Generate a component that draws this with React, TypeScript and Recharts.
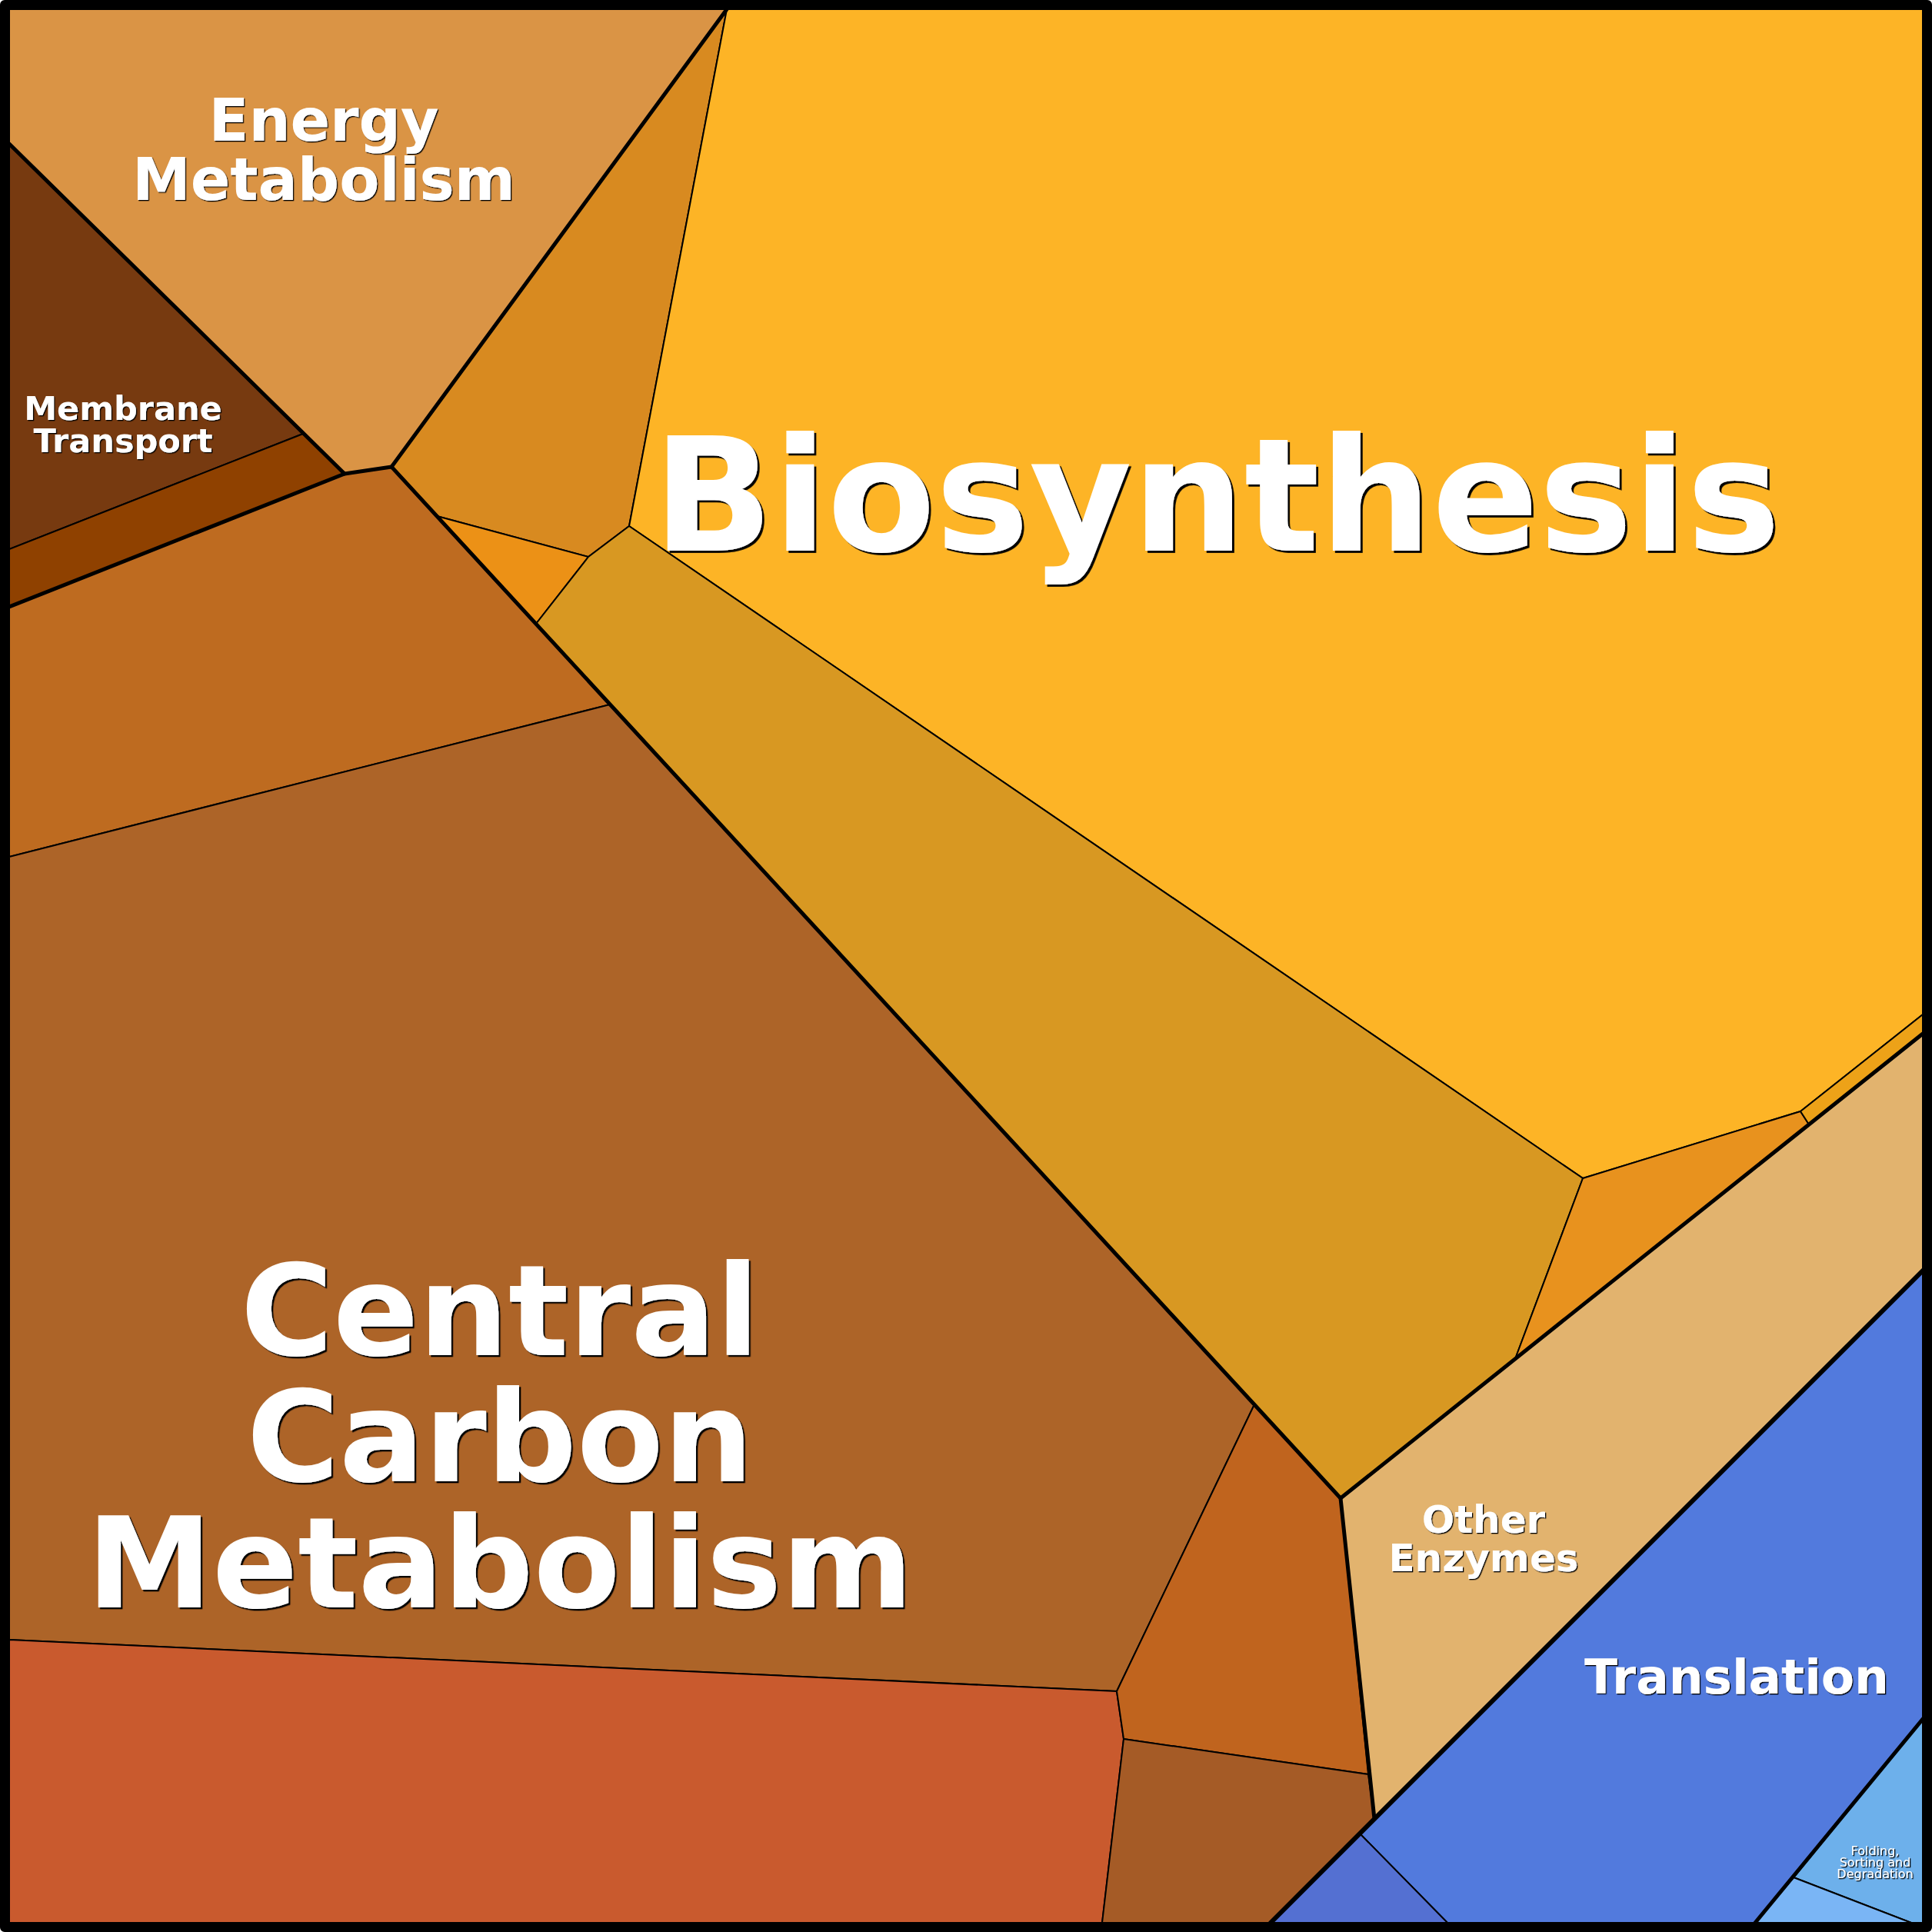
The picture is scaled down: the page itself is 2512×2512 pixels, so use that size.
import { ScatterChart, Scatter, XAxis, YAxis } from 'recharts'

type Vertex = [number, number]

// Voronoi cells, vertices in picture units (the frame runs 12..2500 on both axes)
const energyMetabolism: Vertex[] = [[12, 12], [945, 12], [509, 607], [448, 616], [12, 187]]
const membraneUpper: Vertex[] = [[12, 187], [394, 564], [12, 714]]
const membraneLower: Vertex[] = [[12, 714], [394, 564], [448, 616], [12, 789]]
const carbonUpper: Vertex[] = [[12, 789], [448, 616], [509, 607], [793, 916], [12, 1114]]
const carbonMain: Vertex[] = [[12, 1114], [793, 916], [1631, 1826], [1452, 2199], [12, 2132]]
const carbonLowerLeft: Vertex[] = [[12, 2132], [1452, 2199], [1461, 2261], [1433, 2500], [12, 2500]]
const carbonRight: Vertex[] = [[1452, 2199], [1631, 1826], [1743, 1948], [1779, 2307], [1461, 2261]]
const carbonBottom: Vertex[] = [[1461, 2261], [1779, 2307], [1787, 2365], [1652, 2500], [1433, 2500]]
const bioWedge: Vertex[] = [[945, 12], [818, 684], [765, 724], [568, 671], [509, 607]]
const bioTriangle: Vertex[] = [[568, 671], [765, 724], [697, 811]]
const bioMain: Vertex[] = [[945, 12], [2500, 12], [2500, 1319], [2341, 1445], [2058, 1532], [818, 684]]
const bioBand: Vertex[] = [[818, 684], [2058, 1532], [1970, 1767], [1743, 1948], [697, 811], [765, 724]]
const bioOrange: Vertex[] = [[2058, 1532], [2341, 1445], [2352, 1462], [1970, 1767]]
const bioSliver: Vertex[] = [[2341, 1445], [2500, 1319], [2500, 1344], [2352, 1462]]
const otherEnzymes: Vertex[] = [[1743, 1948], [2500, 1344], [2500, 1652], [1787, 2365]]
const translationMain: Vertex[] = [[1787, 2365], [2500, 1652], [2500, 2235], [2282, 2500], [1882, 2500], [1768, 2384]]
const translationSmall: Vertex[] = [[1652, 2500], [1768, 2384], [1882, 2500]]
const foldingMain: Vertex[] = [[2332, 2441], [2500, 2235], [2500, 2500], [2485, 2500]]
const foldingSliver: Vertex[] = [[2282, 2500], [2332, 2441], [2485, 2500]]

// top-level category borders
const borderEnergy: Vertex[] = [[12, 187], [448, 616], [509, 607], [945, 12]]
const borderMembrane: Vertex[] = [[12, 789], [448, 616]]
const borderCarbon: Vertex[] = [[509, 607], [1743, 1948], [1787, 2365]]
const borderOther: Vertex[] = [[1743, 1948], [2500, 1344]]
const borderTranslation: Vertex[] = [[2500, 1652], [1652, 2500]]
const borderFolding: Vertex[] = [[2500, 2235], [2282, 2500]]

const labelNames = ['Energy\nMetabolism', 'Membrane\nTransport', 'Biosynthesis', 'Central\nCarbon\nMetabolism', 'Other\nEnzymes', 'Translation', 'Folding,\nSorting and\nDegradation']
const labelAnchors: Vertex[] = [[421, 183], [160, 546], [1582, 716], [650, 1762], [1929, 1993], [2258, 2202], [2438, 2412]]

const cells = [
  { id: 'energy', pts: energyMetabolism },
  { id: 'membraneUpper', pts: membraneUpper },
  { id: 'membraneLower', pts: membraneLower },
  { id: 'carbonUpper', pts: carbonUpper },
  { id: 'carbonMain', pts: carbonMain },
  { id: 'carbonLowerLeft', pts: carbonLowerLeft },
  { id: 'carbonRight', pts: carbonRight },
  { id: 'carbonBottom', pts: carbonBottom },
  { id: 'bioWedge', pts: bioWedge },
  { id: 'bioTriangle', pts: bioTriangle },
  { id: 'bioMain', pts: bioMain },
  { id: 'bioBand', pts: bioBand },
  { id: 'bioOrange', pts: bioOrange },
  { id: 'bioSliver', pts: bioSliver },
  { id: 'other', pts: otherEnzymes },
  { id: 'translationMain', pts: translationMain },
  { id: 'translationSmall', pts: translationSmall },
  { id: 'foldingMain', pts: foldingMain },
  { id: 'foldingSliver', pts: foldingSliver },
]

const cellColors: Record<string, string> = {
  energy: '#DA9445',
  membraneUpper: '#773A10',
  membraneLower: '#8F4100',
  carbonUpper: '#BE6B20',
  carbonMain: '#AD6428',
  carbonLowerLeft: '#C95A2E',
  carbonRight: '#C0641E',
  carbonBottom: '#A55B26',
  bioWedge: '#D88A20',
  bioTriangle: '#EC9116',
  bioMain: '#FDB426',
  bioBand: '#D89822',
  bioOrange: '#E8921E',
  bioSliver: '#EDA218',
  other: '#E2B36E',
  translationMain: '#527ADD',
  translationSmall: '#5470D2',
  foldingMain: '#6DB0EB',
  foldingSliver: '#7AB5F5',
}

const borders = [
  { pts: borderEnergy, w: 5 },
  { pts: borderMembrane, w: 5 },
  { pts: borderCarbon, w: 5 },
  { pts: borderOther, w: 5 },
  { pts: borderTranslation, w: 6 },
  { pts: borderFolding, w: 5 },
]

const labelStyle = [
  { size: 76, lh: 77, weight: 'bold' },
  { size: 43, lh: 42, weight: 'bold' },
  { size: 205, lh: 205, weight: 'bold' },
  { size: 164, lh: 164, weight: 'bold' },
  { size: 50, lh: 50, weight: 'bold' },
  { size: 63, lh: 63, weight: 'bold' },
  { size: 16, lh: 15, weight: 'normal' },
]

const toPoints = (v: Vertex[], close: boolean) => {
  const pts = v.map(([x, y]) => ({ x, y }))
  return close ? [...pts, pts[0]] : pts
}

const labelData = labelNames.map((name, i) => ({ x: labelAnchors[i][0], y: labelAnchors[i][1], name, idx: i }))

const NoDot = () => <g />

const LabelShape = (props: any) => {
  const { cx, cy, payload } = props
  const st = labelStyle[payload.idx]
  const lines: string[] = payload.name.split('\n')
  const off = Math.max(1.3, st.size * 0.014)
  const fid = `label-shadow-${payload.idx}`
  return (
    <g>
      <defs>
        <filter id={fid} x="-5%" y="-5%" width="110%" height="110%">
          <feDropShadow dx={off} dy={off} stdDeviation={0.4} floodColor="#000" floodOpacity={1} />
        </filter>
      </defs>
      <text
        x={cx}
        y={cy}
        textAnchor="middle"
        fontFamily="DejaVu Sans"
        fontWeight={st.weight}
        fontSize={st.size}
        fill="#fff"
        filter={`url(#${fid})`}
      >
        {lines.map((l, i) => (
          <tspan key={i} x={cx} dy={i === 0 ? 0 : st.lh}>
            {l}
          </tspan>
        ))}
      </text>
    </g>
  )
}

export default function App() {
  return (
    <div
      style={{
        position: 'absolute',
        left: 0,
        top: 0,
        width: 2488,
        height: 2488,
        border: '12px solid #000',
        borderRadius: 6,
        background: '#000',
      }}
    >
      <ScatterChart width={2488} height={2488} margin={{ top: 0, right: 0, bottom: 0, left: 0 }}>
        <XAxis type="number" dataKey="x" domain={[12, 2500]} hide />
        <YAxis type="number" dataKey="y" domain={[12, 2500]} reversed hide />
        {cells.map((c) => (
          <Scatter
            key={c.id}
            data={toPoints(c.pts, true)}
            shape={NoDot}
            line={{ fill: cellColors[c.id], stroke: '#000', strokeWidth: 2, strokeLinejoin: 'miter' }}
            lineJointType="linear"
            isAnimationActive={false}
          />
        ))}
        {borders.map((b, i) => (
          <Scatter
            key={'b' + i}
            data={toPoints(b.pts, false)}
            shape={NoDot}
            line={{ fill: 'none', stroke: '#000', strokeWidth: b.w, strokeLinejoin: 'round', strokeLinecap: 'round' }}
            lineJointType="linear"
            isAnimationActive={false}
          />
        ))}
        <Scatter data={labelData} shape={LabelShape} isAnimationActive={false} />
      </ScatterChart>
    </div>
  )
}
